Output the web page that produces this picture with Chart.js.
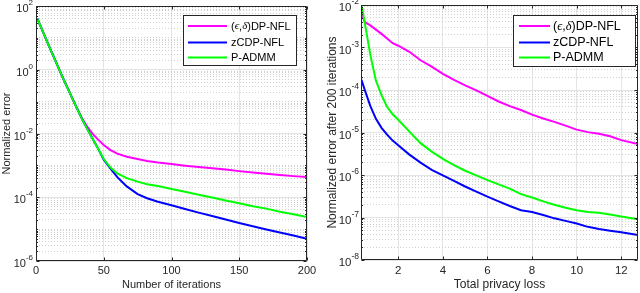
<!DOCTYPE html>
<html>
<head>
<meta charset="utf-8">
<script src="https://cdn.jsdelivr.net/npm/chart.js@4"></script>
<style>
  html, body { margin: 0; padding: 0; background: #fff; }
  .panel { position: absolute; top: 0; width: 320px; height: 293px; }
</style>
</head>
<body>
<div class="panel" style="left:0"><canvas id="iterChart" width="320" height="293"></canvas></div>
<div class="panel" style="left:320px"><canvas id="lossChart" width="320" height="293"></canvas></div>
<script>
const seriesNames = ["(ϵ,δ)DP-NFL", "zCDP-NFL", "P-ADMM"];
const seriesColors = ["#ff00ff", "#0000ff", "#00ff00"];

// left panel: normalized error vs. iteration
const iterations = [1, 10, 20, 30, 34, 38, 42, 46, 50, 55, 60, 67, 75, 82, 90, 100, 110, 120, 130, 140, 150, 160, 170, 180, 190, 200];
const iterDP = [40, 5.0, 0.54, 0.065, 0.030, 0.0158, 0.00955, 0.00631, 0.00437, 0.00302, 0.00234, 0.00186, 0.00158, 0.00138, 0.00123, 0.0011, 9.8e-4, 8.9e-4, 8.1e-4, 7.4e-4, 6.6e-4, 6.0e-4, 5.5e-4, 5.0e-4, 4.6e-4, 4.3e-4];
const iterZCDP = [40, 5.0, 0.54, 0.065, 0.0282, 0.0135, 0.0066, 0.00324, 0.00151, 7.9e-4, 4.27e-4, 2.19e-4, 1.26e-4, 9.3e-5, 7.2e-5, 5.6e-5, 4.27e-5, 3.3e-5, 2.57e-5, 2.0e-5, 1.55e-5, 1.23e-5, 9.8e-6, 7.8e-6, 6.3e-6, 5.0e-6];
const iterADMM = [40, 5.0, 0.54, 0.065, 0.0282, 0.0135, 0.0066, 0.00324, 0.00158, 8.5e-4, 5.6e-4, 3.98e-4, 3.09e-4, 2.57e-4, 2.24e-4, 1.82e-4, 1.48e-4, 1.2e-4, 9.8e-5, 7.9e-5, 6.5e-5, 5.2e-5, 4.4e-5, 3.5e-5, 2.95e-5, 2.4e-5];
const iterXTicks = [0, 50, 100, 150, 200];
const iterYLabels = [1e2, 1e0, 1e-2, 1e-4, 1e-6];

// right panel: error after 200 iterations vs. total privacy loss
const privacyLoss = [0.35, 0.5, 0.75, 1, 1.25, 1.5, 1.75, 2, 2.5, 3, 3.5, 4, 4.5, 5, 5.5, 6, 6.5, 7, 7.5, 8, 8.5, 9, 9.5, 10, 10.5, 11, 11.5, 12, 12.75];
const lossDP = [6.3e-3, 3.98e-3, 3.31e-3, 2.63e-3, 2.09e-3, 1.62e-3, 1.26e-3, 1.10e-3, 7.94e-4, 5.01e-4, 3.55e-4, 2.40e-4, 1.74e-4, 1.29e-4, 9.77e-5, 7.24e-5, 5.37e-5, 4.17e-5, 3.39e-5, 2.63e-5, 2.14e-5, 1.78e-5, 1.45e-5, 1.17e-5, 1.02e-5, 9.33e-6, 8.13e-6, 6.61e-6, 5.37e-6];
const lossZCDP = [1.74e-4, 1.0e-4, 4.17e-5, 2.09e-5, 1.29e-5, 8.91e-6, 6.46e-6, 5.01e-6, 3.02e-6, 1.95e-6, 1.32e-6, 9.77e-7, 7.24e-7, 5.37e-7, 4.07e-7, 3.09e-7, 2.40e-7, 1.86e-7, 1.48e-7, 1.35e-7, 1.15e-7, 9.55e-8, 8.32e-8, 7.24e-8, 6.03e-8, 5.37e-8, 4.90e-8, 4.47e-8, 3.89e-8];
const lossADMM = [1.0e-2, 3.80e-3, 6.61e-4, 1.66e-4, 7.59e-5, 3.98e-5, 2.69e-5, 2.0e-5, 1.05e-5, 5.62e-6, 3.55e-6, 2.40e-6, 1.70e-6, 1.26e-6, 9.77e-7, 7.59e-7, 6.03e-7, 4.79e-7, 3.55e-7, 2.95e-7, 2.40e-7, 2.0e-7, 1.70e-7, 1.48e-7, 1.35e-7, 1.29e-7, 1.17e-7, 1.05e-7, 9.12e-8];
const lossXTicks = [2, 4, 6, 8, 10, 12];
const lossYLabels = [1e-2, 1e-3, 1e-4, 1e-5, 1e-6, 1e-7, 1e-8];

const FAMILY = "'Liberation Sans', Arial, sans-serif";
const INK = "#262626";
Chart.defaults.font.family = FAMILY;
Chart.defaults.color = INK;

// grid positions 1..9 x 10^k for a log axis
function logGrid(min, max) {
  const out = [];
  for (let e = Math.round(Math.log10(min)); e < Math.round(Math.log10(max)); e++) {
    for (let m = 1; m < 10; m++) out.push(m * Math.pow(10, e));
  }
  out.push(max);
  return out;
}
function inList(list, v) {
  return list.some(m => Math.abs(Math.log10(m) - Math.log10(v)) < 1e-6);
}

// black axes box with inward ticks
const framePlugin = {
  id: "frame",
  afterDatasetsDraw(chart, args, o) {
    const { ctx, chartArea: a, scales: { x, y } } = chart;
    const L = Math.round(a.left) + 0.5, R = Math.round(a.right) - 0.5;
    const T = Math.round(a.top) + 0.5, B = Math.round(a.bottom) - 0.5;
    ctx.save();
    ctx.strokeStyle = INK;
    ctx.lineWidth = 1;
    ctx.beginPath();
    ctx.rect(L, T, R - L, B - T);
    x.ticks.forEach(t => {
      const px = Math.round(x.getPixelForValue(t.value)) + 0.5;
      ctx.moveTo(px, B); ctx.lineTo(px, B - 3);
      ctx.moveTo(px, T); ctx.lineTo(px, T + 3);
    });
    y.ticks.forEach(t => {
      const py = Math.round(y.getPixelForValue(t.value)) + 0.5;
      const len = inList(o.major, t.value) ? 3 : 1.5;
      ctx.moveTo(L, py); ctx.lineTo(L + len, py);
      ctx.moveTo(R, py); ctx.lineTo(R - len, py);
    });
    ctx.stroke();
    ctx.restore();
  }
};

// 10^k tick labels with a raised exponent
const expLabelPlugin = {
  id: "expLabels",
  afterDraw(chart, args, o) {
    const { ctx, chartArea: a } = chart;
    const y = chart.scales.y;
    ctx.save();
    ctx.fillStyle = INK;
    ctx.textBaseline = "middle";
    o.values.forEach(v => {
      const py = y.getPixelForValue(v);
      const exp = String(Math.round(Math.log10(v)));
      const right = a.left - o.gap;
      ctx.font = o.supSize + "px " + FAMILY;
      const w = ctx.measureText(exp).width;
      ctx.textAlign = "left";
      ctx.fillText(exp, right - w, py - o.raise);
      ctx.font = o.size + "px " + FAMILY;
      ctx.textAlign = "right";
      ctx.fillText("10", right - w, py + o.drop);
    });
    ctx.restore();
  }
};

function drawRichLabel(ctx, text, x, y, size) {
  let cx = x;
  for (const ch of text) {
    ctx.font = /[ϵδ]/.test(ch) ? "italic " + size + "px 'Liberation Serif', 'DejaVu Serif', serif" : size + "px " + FAMILY;
    ctx.fillText(ch, cx, y);
    cx += ctx.measureText(ch).width;
  }
}

// boxed legend inside the axes, MATLAB style
const boxLegendPlugin = {
  id: "boxLegend",
  afterDraw(chart, args, o) {
    const ctx = chart.ctx;
    ctx.save();
    ctx.fillStyle = "#fff";
    ctx.fillRect(o.x, o.y, o.w, o.h);
    ctx.strokeStyle = INK;
    ctx.lineWidth = 1;
    ctx.strokeRect(o.x + 0.5, o.y + 0.5, o.w, o.h);
    ctx.textBaseline = "middle";
    ctx.textAlign = "left";
    chart.data.datasets.forEach((ds, i) => {
      const ry = o.rows[i];
      ctx.strokeStyle = ds.borderColor;
      ctx.lineWidth = 2;
      ctx.beginPath();
      ctx.moveTo(o.lineX0, ry);
      ctx.lineTo(o.lineX1, ry);
      ctx.stroke();
      ctx.fillStyle = "#000";
      drawRichLabel(ctx, ds.label, o.textX, ry + 0.5, o.size);
    });
    ctx.restore();
  }
};

function makeChart(id, c) {
  const grid = logGrid(c.yMin, c.yMax);
  return new Chart(document.getElementById(id), {
    type: "line",
    data: {
      datasets: c.series.map((vals, i) => ({
        label: seriesNames[i],
        data: c.x.map((xv, j) => ({ x: xv, y: vals[j] })),
        borderColor: seriesColors[i],
        borderWidth: 2,
        pointRadius: 0,
        fill: false,
        tension: 0,
        order: 2 - i
      }))
    },
    options: {
      responsive: false,
      animation: false,
      layout: { padding: c.padding },
      plugins: {
        legend: { display: false },
        tooltip: { enabled: false },
        frame: { major: c.yLabels },
        expLabels: { values: c.yLabels, size: c.tickSize, supSize: c.supSize, gap: c.gap, raise: 3, drop: 3 },
        boxLegend: c.legend
      },
      scales: {
        x: {
          type: "linear",
          min: c.xMin,
          max: c.xMax,
          afterBuildTicks: s => { s.ticks = c.xTicks.map(v => ({ value: v })); },
          afterFit: s => { s.height = c.xAxisHeight; },
          ticks: { font: { size: c.tickSize }, color: INK, padding: c.xTickPad, maxRotation: 0, autoSkip: false },
          grid: { color: "#e4e4e4", drawTicks: false },
          border: { display: false },
          title: { display: true, text: c.xTitle, color: INK, font: { size: c.titleSize }, padding: { top: 0, bottom: 1 } }
        },
        y: {
          type: "logarithmic",
          min: c.yMin,
          max: c.yMax,
          afterBuildTicks: s => { s.ticks = grid.map(v => ({ value: v })); },
          afterFit: s => { s.width = c.yAxisWidth; },
          ticks: { display: false },
          grid: {
            drawTicks: false,
            color: ctx => (ctx.tick && !inList(c.yLabels, ctx.tick.value)) ? "#cfcfcf" : "#e4e4e4"
          },
          border: {
            display: false,
            dash: ctx => (ctx.tick && !inList(c.yLabels, ctx.tick.value)) ? [1, 2] : []
          },
          title: { display: true, text: c.yTitle, color: INK, font: { size: c.titleSize }, padding: { top: c.yTitlePad, bottom: 0 } }
        }
      }
    },
    plugins: [framePlugin, expLabelPlugin, boxLegendPlugin]
  });
}

makeChart("iterChart", {
  x: iterations,
  series: [iterDP, iterZCDP, iterADMM],
  xMin: 0, xMax: 200, xTicks: iterXTicks,
  yMin: 1e-6, yMax: 1e2, yLabels: iterYLabels,
  xTitle: "Number of iterations",
  yTitle: "Normalized error",
  padding: { top: 6, right: 13, left: 0, bottom: 0 },
  yAxisWidth: 36, xAxisHeight: 32, xTickPad: 3, yTitlePad: 0,
  tickSize: 11, supSize: 8, gap: 3, titleSize: 11,
  legend: { x: 183, y: 15, w: 113, h: 50, rows: [26, 42.5, 57.5], lineX0: 188, lineX1: 227, textX: 231, size: 11 }
});

makeChart("lossChart", {
  x: privacyLoss,
  series: [lossDP, lossZCDP, lossADMM],
  xMin: 0.33, xMax: 12.75, xTicks: lossXTicks,
  yMin: 1e-8, yMax: 1e-2, yLabels: lossYLabels,
  xTitle: "Total privacy loss",
  yTitle: "Normalized error after 200 iterations",
  padding: { top: 5, right: 2, left: 0, bottom: 0 },
  yAxisWidth: 41, xAxisHeight: 33, xTickPad: 4, yTitlePad: 5,
  tickSize: 11.5, supSize: 8.5, gap: 2, titleSize: 12,
  legend: { x: 193, y: 15, w: 122, h: 51, rows: [26, 42.5, 57.5], lineX0: 199, lineX1: 230, textX: 233, size: 12.5 }
});
</script>
</body>
</html>
